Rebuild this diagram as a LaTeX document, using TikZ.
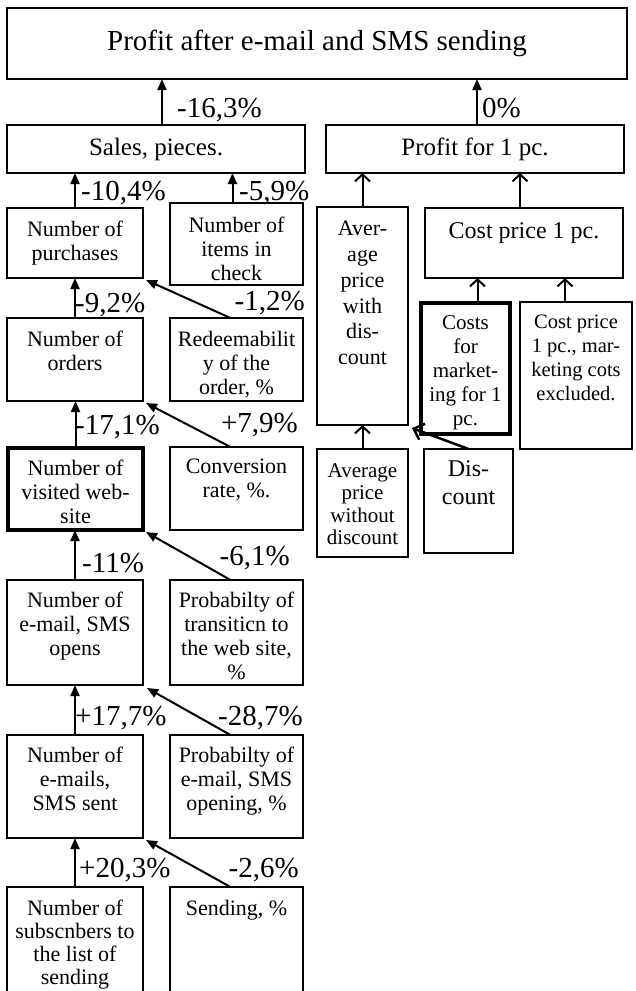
\documentclass[tikz,border=0pt]{standalone}
\usepackage{fontspec}
\setmainfont{Liberation Serif}
\usetikzlibrary{arrows.meta,fit}
\tikzset{
  x=1pt,y=-1pt,
  box/.style={draw=black,line width=2pt,inner sep=0pt,outer sep=0pt,fill=none},
  thickbox/.style={draw=black,line width=4pt,inner sep=0pt,outer sep=0pt},
  txt/.style={inner sep=0pt,align=center,font=\fontsize{22}{24}\selectfont},
  pct/.style={inner sep=0pt,font=\fontsize{29}{30}\selectfont},
  farr/.style={line width=2pt,-{Triangle[length=11pt,width=9pt]}},
  oarr/.style={line width=2pt,-{Straight Barb[length=7pt,width=15pt,line width=2pt]}},
  oarrd/.style={line width=2.5pt,-{Straight Barb[length=9pt,width=17pt,line width=2.5pt]}},
}
\begin{document}
\begin{tikzpicture}
\useasboundingbox (0,0) rectangle (635,991);
\clip (0,0) rectangle (635,991);
\fill[white] (0,0) rectangle (635,991);

% ---------- boxes ----------
\node[box,fit={(7,8)(627,79)}] (top) {};
\node[box,fit={(7,125)(305,173)}] (sales) {};
\node[box,fit={(326,125)(624,173)}] (pp1) {};

\node[box,fit={(7,208)(143,278)}] (purch) {};
\node[box,fit={(170,203)(303,285)}] (items) {};
\node[box,fit={(7,318)(143,401)}] (orders) {};
\node[box,fit={(170,318)(303,401)}] (redeem) {};
\node[thickbox,fit={(8,448)(143,530)}] (visit) {};
\node[box,fit={(170,447)(303,530)}] (conv) {};
\node[box,fit={(7,580)(143,685)}] (opens) {};
\node[box,fit={(170,580)(303,685)}] (ptrans) {};
\node[box,fit={(7,735)(143,838)}] (sent) {};
\node[box,fit={(170,735)(303,838)}] (popen) {};
\node[box,fit={(7,887)(143,1010)}] (subs) {};
\node[box,fit={(170,887)(303,1010)}] (sendp) {};

\node[box,fit={(317,207)(408,425)}] (avgd) {};
\node[box,fit={(425,208)(623,278)}] (cost1) {};
\node[thickbox,fit={(421,303)(510,434)}] (mkt) {};
\node[box,fit={(520,302)(632,449)}] (costx) {};
\node[box,fit={(317,449)(408,557)}] (avgnd) {};
\node[box,fit={(424,449)(513,553)}] (disc) {};

% ---------- texts ----------
\node[txt,font=\fontsize{29}{30}\selectfont] at (top.center) {Profit after e-mail and SMS sending};
\node[txt,font=\fontsize{25}{26}\selectfont] at (sales.center) {Sales, pieces.};
\node[txt,font=\fontsize{25}{26}\selectfont] at (pp1.center) {Profit for 1 pc.};

\node[txt,anchor=north] at ([yshift=-13pt]purch.north) {Number of\\purchases};
\node[txt,anchor=north] at ([yshift=-14pt]items.north) {Number of\\items in\\check};
\node[txt,anchor=north] at ([yshift=-13pt]orders.north) {Number of\\orders};
\node[txt,anchor=north] at ([yshift=-13pt]redeem.north) {Redeemabilit\\y of the\\order, \%};
\node[txt,anchor=north] at ([yshift=-12pt]visit.north) {Number of\\visited web-\\site};
\node[txt,anchor=north] at ([yshift=-12pt]conv.north) {Conversion\\rate, \%.};
\node[txt,anchor=north] at ([yshift=-12pt]opens.north) {Number of\\e-mail, SMS\\opens};
\node[txt,anchor=north] at ([yshift=-12pt]ptrans.north) {Probabilty of\\transiticn to\\the web site,\\\%};
\node[txt,anchor=north] at ([yshift=-12pt]sent.north) {Number of\\e-mails,\\SMS sent};
\node[txt,anchor=north] at ([yshift=-12pt]popen.north) {Probabilty of\\e-mail, SMS\\opening, \%};
\node[txt,anchor=north,font=\fontsize{22}{23}\selectfont] at ([yshift=-13pt]subs.north) {Number of\\subscnbers to\\the list of\\sending};
\node[txt,anchor=north] at ([yshift=-13pt]sendp.north) {Sending, \%};

\node[txt,anchor=north,font=\fontsize{22}{25.8}\selectfont] at ([yshift=-14pt]avgd.north) {Aver-\\age\\price\\with\\dis-\\count};
\node[txt,anchor=north,font=\fontsize{24}{26}\selectfont] at ([yshift=-14pt]cost1.north) {Cost price 1 pc.};
\node[txt,anchor=north,font=\fontsize{21}{24}\selectfont] at ([yshift=-12pt]mkt.north) {Costs\\for\\market-\\ing for 1\\pc.};
\node[txt,anchor=north,font=\fontsize{20.5}{24}\selectfont] at ([yshift=-13pt]costx.north) {Cost price\\1 pc., mar-\\keting cots\\excluded.};
\node[txt,anchor=north,font=\fontsize{21}{22.5}\selectfont] at ([yshift=-14pt]avgnd.north) {Average\\price\\without\\discount};
\node[txt,anchor=north,font=\fontsize{24}{28}\selectfont] at ([yshift=-11pt]disc.north) {Dis-\\count};

% ---------- connectors ----------
\draw[farr] ([xshift=6pt]sales.north) -- ([xshift=6pt]sales.north |- top.south);
\draw[farr] ([xshift=2pt]pp1.north) -- ([xshift=2pt]pp1.north |- top.south);
\draw[farr] (purch.north) -- (purch.north |- sales.south);
\draw[farr] ([xshift=-4pt]items.north) -- ([xshift=-4pt]items.north |- sales.south);
\draw[farr] (orders.north) -- (orders.north |- purch.south);
\draw[farr] ([xshift=-6pt]redeem.north) -- ([shift={(3pt,-2pt)}]purch.south east);
\draw[farr] (visit.north) -- (visit.north |- orders.south);
\draw[farr] ([xshift=-6pt]conv.north) -- ([shift={(3pt,-2pt)}]orders.south east);
\draw[farr] (opens.north) -- (opens.north |- visit.south);
\draw[farr] ([xshift=-6pt]ptrans.north) -- ([shift={(3pt,-2pt)}]visit.south east);
\draw[farr] (sent.north) -- (sent.north |- opens.south);
\draw[farr] ([xshift=-6pt]popen.north) -- ([shift={(4pt,-3pt)}]opens.south east);
\draw[farr] (subs.north) -- (subs.north |- sent.south);
\draw[farr] ([xshift=-6pt]sendp.north) -- ([shift={(3pt,-2pt)}]sent.south east);

\draw[oarr] (avgd.north) -- (avgd.north |- pp1.south);
\draw[oarr] ([xshift=-4pt]cost1.north) -- ([xshift=-4pt]cost1.north |- pp1.south);
\draw[oarr] (avgnd.north) -- (avgnd.north |- avgd.south);
\draw[oarrd] (disc.north) -- ([shift={(4pt,-3pt)}]avgd.south east);
\draw[oarr] ([xshift=12pt]mkt.north) -- ([xshift=12pt]mkt.north |- cost1.south);
\draw[oarr] ([xshift=-11pt]costx.north) -- ([xshift=-11pt]costx.north |- cost1.south);

% ---------- percentage labels ----------
\node[pct,anchor=west] (l1) at (177,110) {-16,3\%};
\node[pct,anchor=west] (l2) at (482,108) {0\%};
\node[pct,anchor=west] (l3) at (81,193) {-10,4\%};
\node[pct,anchor=west] (l4) at (239,193) {-5,9\%};
\node[pct,anchor=west] (l5) at (75,305) {-9,2\%};
\node[pct,anchor=east] (l6) at (305,303) {-1,2\%};
\node[pct,anchor=west] (l7) at (75,427) {-17,1\%};
\node[pct,anchor=east] (l8) at (298,425) {+7,9\%};
\node[pct,anchor=west] (l9) at (82,563) {-11\%};
\node[pct,anchor=east] (l10) at (290,558) {-6,1\%};
\node[pct,anchor=west] (l11) at (75,718) {+17,7\%};
\node[pct,anchor=east] (l12) at (303,718) {-28,7\%};
\node[pct,anchor=west] (l13) at (79,870) {+20,3\%};
\node[pct,anchor=east] (l14) at (299,870) {-2,6\%};
\end{tikzpicture}
\end{document}
